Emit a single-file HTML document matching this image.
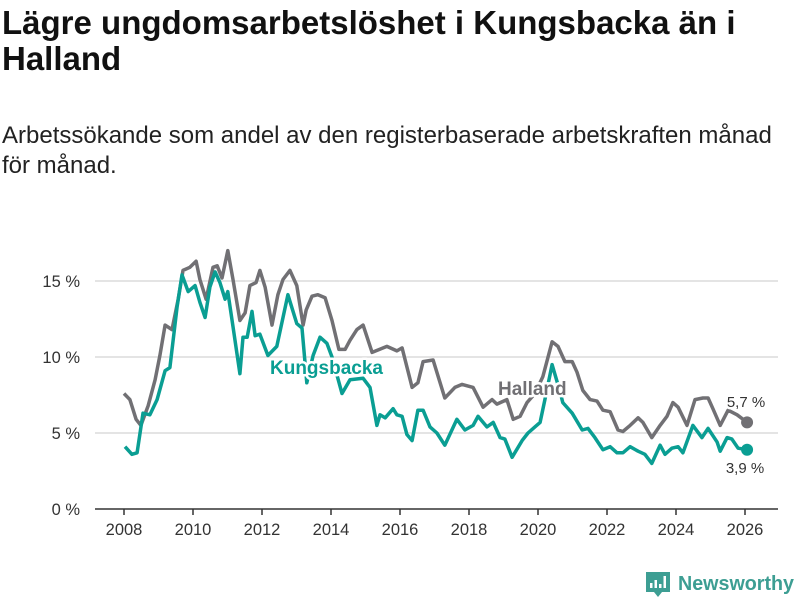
<!DOCTYPE html>
<html><head><meta charset="utf-8"><style>
body{margin:0;width:800px;height:600px;background:#fff;overflow:hidden;font-family:"Liberation Sans",sans-serif;}
#title{position:absolute;left:2px;top:5px;font-size:33px;font-weight:bold;line-height:36px;color:#111;margin:0;width:790px;}
#sub{position:absolute;left:2px;top:121px;font-size:24px;line-height:30px;color:#222;margin:0;width:795px;}
svg{position:absolute;left:0;top:0;}
</style></head><body>
<h1 id="title">Lägre ungdomsarbetslöshet i Kungsbacka än i Halland</h1>
<p id="sub">Arbetssökande som andel av den registerbaserade arbetskraften månad för månad.</p>
<svg id="chart" width="800" height="600"></svg>
<script>
const yTicks=[0,5,10,15];
const yTickLabels=["0 %","5 %","10 %","15 %"];
const xTicks=[2008,2010,2012,2014,2016,2018,2020,2022,2024,2026];
const hallandYears=[2008.00,2008.17,2008.35,2008.49,2008.70,2008.90,2009.04,2009.19,2009.39,2009.57,2009.71,2009.91,2010.09,2010.20,2010.38,2010.58,2010.70,2010.84,2011.01,2011.16,2011.36,2011.51,2011.65,2011.83,2011.94,2012.09,2012.29,2012.46,2012.61,2012.81,2013.01,2013.19,2013.28,2013.45,2013.62,2013.83,2014.03,2014.23,2014.41,2014.55,2014.75,2014.93,2015.19,2015.62,2015.91,2016.06,2016.35,2016.52,2016.67,2016.96,2017.30,2017.59,2017.80,2018.12,2018.41,2018.67,2018.81,2019.10,2019.28,2019.48,2019.68,2019.91,2020.14,2020.41,2020.58,2020.78,2020.99,2021.13,2021.30,2021.51,2021.71,2021.88,2022.09,2022.32,2022.46,2022.67,2022.90,2023.04,2023.30,2023.54,2023.74,2023.91,2024.06,2024.32,2024.55,2024.78,2024.93,2025.07,2025.28,2025.51,2025.77,2026.06];
const hallandValues=[7.6,7.2,5.9,5.5,6.8,8.5,10.1,12.1,11.8,13.8,15.7,15.9,16.3,15.1,13.8,15.9,16.0,15.2,17.0,15.1,12.4,12.9,14.7,14.9,15.7,14.6,12.1,14.1,15.1,15.7,14.7,12.1,13.1,14.0,14.1,13.9,12.4,10.5,10.5,11.1,11.8,12.1,10.3,10.7,10.4,10.6,8.0,8.3,9.7,9.8,7.3,8.0,8.2,8.0,6.7,7.2,6.9,7.2,5.9,6.1,7.0,7.6,8.7,11.0,10.7,9.7,9.7,9.0,7.8,7.2,7.1,6.5,6.4,5.2,5.1,5.5,6.0,5.7,4.7,5.5,6.1,7.0,6.7,5.5,7.2,7.3,7.3,6.6,5.5,6.5,6.2,5.7];
const kungsYears=[2008.03,2008.23,2008.38,2008.55,2008.75,2008.96,2009.19,2009.33,2009.54,2009.68,2009.86,2010.06,2010.20,2010.35,2010.49,2010.64,2010.78,2010.93,2011.01,2011.16,2011.36,2011.45,2011.57,2011.71,2011.80,2011.94,2012.17,2012.43,2012.75,2013.01,2013.16,2013.30,2013.48,2013.68,2013.88,2014.03,2014.32,2014.55,2014.93,2015.13,2015.33,2015.42,2015.57,2015.80,2015.91,2016.06,2016.20,2016.35,2016.52,2016.67,2016.87,2017.07,2017.30,2017.65,2017.88,2018.12,2018.26,2018.52,2018.70,2018.90,2019.04,2019.25,2019.54,2019.71,2019.91,2020.06,2020.20,2020.41,2020.64,2020.72,2020.99,2021.28,2021.45,2021.65,2021.88,2022.09,2022.29,2022.46,2022.67,2022.90,2023.10,2023.30,2023.54,2023.68,2023.88,2024.06,2024.20,2024.49,2024.75,2024.93,2025.19,2025.28,2025.48,2025.62,2025.80,2026.06];
const kungsValues=[4.1,3.6,3.7,6.3,6.2,7.2,9.1,9.3,13.3,15.4,14.3,14.7,13.6,12.6,14.6,15.6,14.9,13.8,14.3,12.0,8.9,11.3,11.3,13.0,11.4,11.5,10.1,10.7,14.1,12.2,11.9,8.3,10.1,11.3,10.9,10.0,7.6,8.5,8.6,8.0,5.5,6.2,6.0,6.6,6.2,6.1,4.9,4.5,6.5,6.5,5.4,5.0,4.2,5.9,5.2,5.5,6.1,5.4,5.7,4.7,4.6,3.4,4.5,5.0,5.4,5.7,7.2,9.5,7.7,7.0,6.3,5.2,5.3,4.7,3.9,4.1,3.7,3.7,4.1,3.8,3.6,3.0,4.2,3.6,4.0,4.1,3.7,5.5,4.7,5.3,4.4,3.8,4.7,4.6,4.0,3.9];
const NS='http://www.w3.org/2000/svg';
const svg=document.getElementById('chart');
const X=y=>124+(y-2008)*34.5;
const Y=v=>509-v*15.2;
function mk(tag,at,parent){const e=document.createElementNS(NS,tag);for(const k in at)e.setAttribute(k,at[k]);(parent||svg).appendChild(e);return e;}
yTicks.forEach((t,i)=>{
  if(t>0){const g=mk('line',{x1:95,x2:778,y1:Y(t),y2:Y(t),stroke:'#dcdcdc','stroke-width':1.5});
  
  }
  const l=mk('text',{x:80,y:Y(t)+6,'text-anchor':'end','font-size':16.5,fill:'#333'});
  l.textContent=yTickLabels[i];
  
  
});
const ax=mk('line',{x1:95,x2:778,y1:509,y2:509,stroke:'#333','stroke-width':1.5});


xTicks.forEach(t=>{
  const tk=mk('line',{x1:X(t),x2:X(t),y1:509,y2:515,stroke:'#333','stroke-width':1.5});
  
  
  const l=mk('text',{x:X(t),y:535,'text-anchor':'middle','font-size':16.5,fill:'#333'});
  l.textContent=t;
  
  
});
function series(ys,vs,color,name){
  const d=ys.map((y,i)=>(i?'L':'M')+X(y).toFixed(1)+','+Y(vs[i]).toFixed(1)).join('');
  const p=mk('path',{d:d,fill:'none',stroke:color,'stroke-width':3.5,'stroke-linejoin':'round'});
  
  
  const n=ys.length-1;
  const c=mk('circle',{cx:X(ys[n]),cy:Y(vs[n]),r:6,fill:color});
  
  
}
series(hallandYears,hallandValues,'#717074','halland');
series(kungsYears,kungsValues,'#0a9e93','kungsbacka');
function label(txt,x,y,color,name,bold,size,anchor){
  const t=mk('text',{x:x,y:y,'font-size':size,'font-weight':bold?'bold':'normal',fill:color,'text-anchor':anchor||'start',stroke:'#fff','stroke-width':5,'paint-order':'stroke','stroke-linejoin':'round'});
  t.textContent=txt;
  
  
}
label('Kungsbacka',270,374,'#0a9e93','kungsbacka-label',true,19);
label('Halland',498,395,'#717074','halland-label',true,19);
const hn=hallandValues.length-1, kn=kungsValues.length-1;
label(hallandValues[hn].toFixed(1).replace('.',',')+' %',746,407,'#333','halland-end-value',false,15,'middle');
label(kungsValues[kn].toFixed(1).replace('.',',')+' %',745,473,'#333','kungsbacka-end-value',false,15,'middle');
</script>
<svg width="800" height="600" style="position:absolute;left:0;top:0">
  <path d="M646 572h24v20h-8l-4 5-4-5h-8z" fill="#3d9e93"/>
  <rect x="650" y="583" width="2.5" height="5" fill="#fff"/><rect x="654.5" y="580" width="2.5" height="8" fill="#fff"/><rect x="659" y="584" width="2.5" height="4" fill="#fff"/><rect x="663.5" y="576" width="2.5" height="12" fill="#fff"/>
  <text x="678" y="590" font-size="20" font-weight="bold" fill="#3d9e93" font-family="Liberation Sans, sans-serif" textLength="116" lengthAdjust="spacingAndGlyphs">Newsworthy</text>
</svg>
</body></html>
